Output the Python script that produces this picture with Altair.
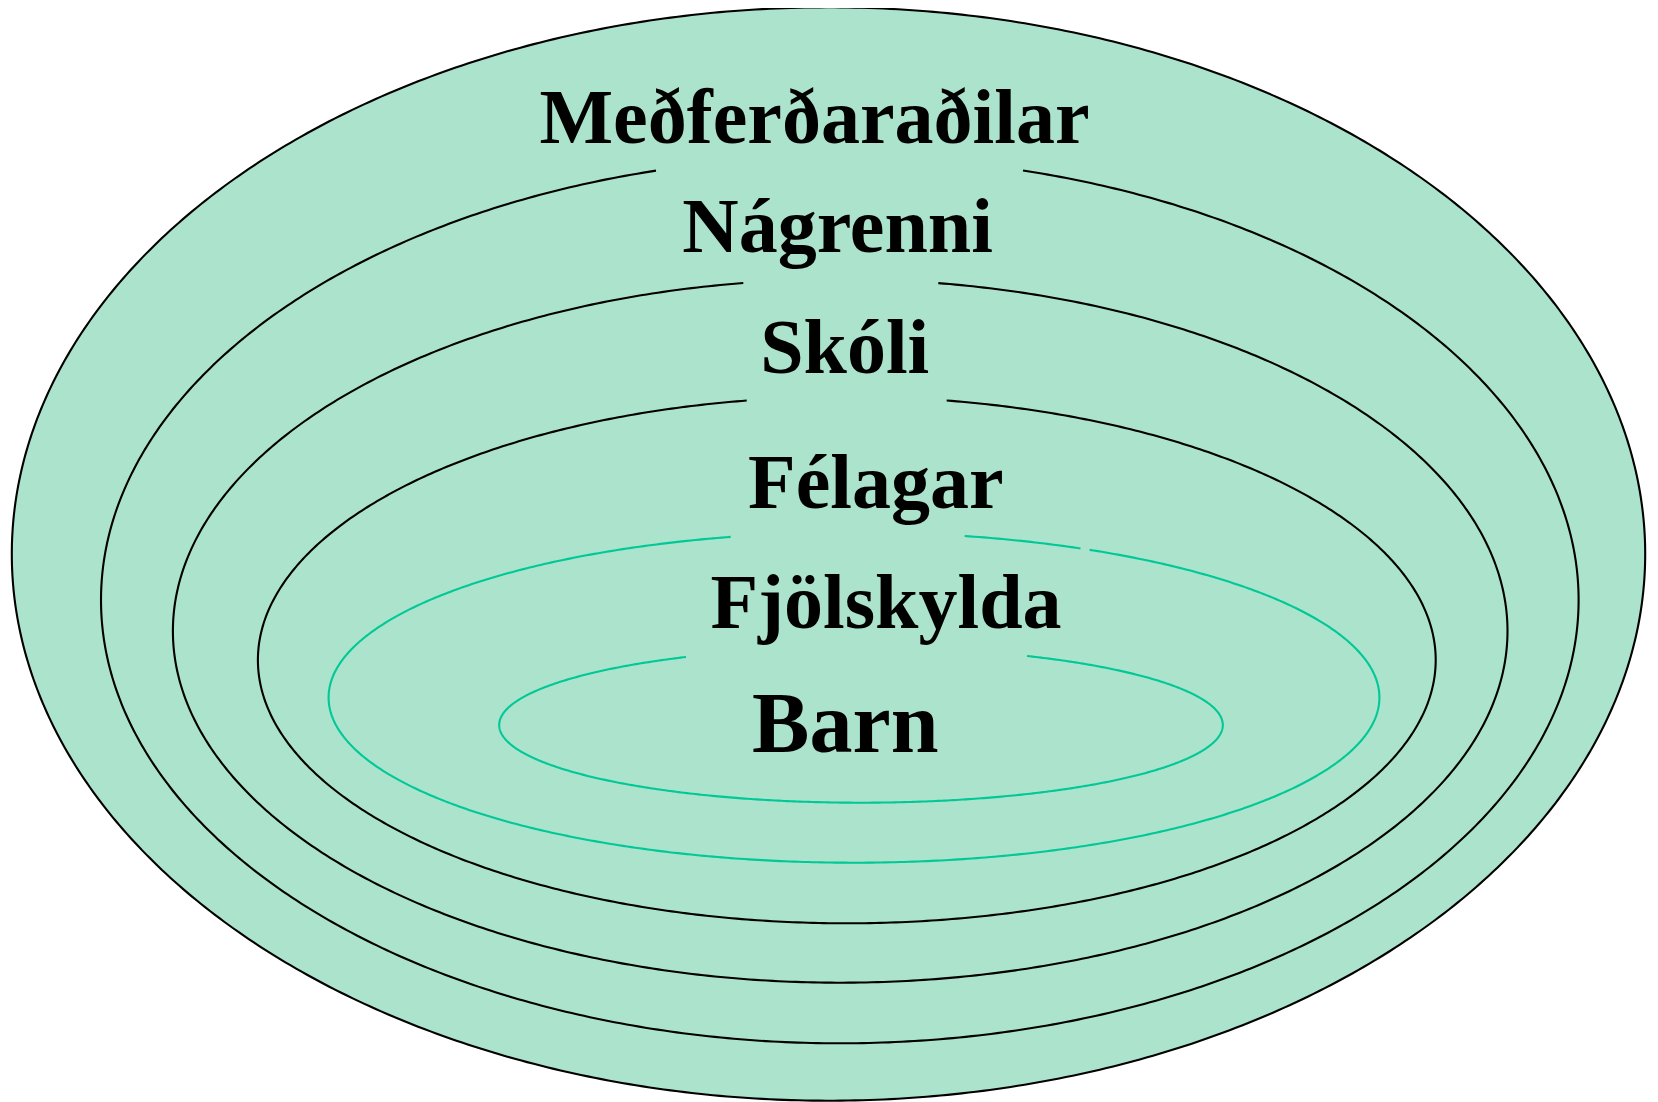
import numpy as np
import pandas as pd
import altair as alt

# ---- rings (nested ellipses), in page pixels ----
ring_names = ["Meðferðaraðilar", "Nágrenni", "Skóli", "Félagar", "Fjölskylda", "Barn"]
ring_cx = [828.5, 839.8, 840.2, 846.8, 854.0, 861.0]
ring_cy = [554.0, 600.0, 631.0, 660.0, 697.5, 725.0]
ring_rx = [816.7, 738.8, 667.3, 588.9, 525.4, 361.8]
ring_ry = [546.7, 443.3, 351.7, 263.3, 165.2, 77.7]
ring_kind = ["black", "black", "black", "black", "teal", "teal"]
# openings in the top edge of each ring (x from, x to)
ring_gaps = [
    [],
    [(656.0, 1023.0)],
    [(743.3, 938.3)],
    [(746.7, 946.7)],
    [(730.7, 964.6), (1080.5, 1089.6)],
    [(686.0, 1027.0)],
]

# ---- labels ----
label_text = ["Meðferðaraðilar", "Nágrenni", "Skóli", "Félagar", "Fjölskylda", "Barn"]
label_x = [814.5, 837.6, 844.7, 875.8, 886.0, 845.3]
label_y = [143.3, 251.7, 372.7, 508.3, 628.3, 752.3]
label_size = [78, 78, 78, 78, 78, 86]

FILL = "#ABE3CC"
TEAL = "#00C896"

# outline paths
rows = []
seg_id = 0
for i in range(len(ring_names)):
    cx, cy, rx, ry = ring_cx[i], ring_cy[i], ring_rx[i], ring_ry[i]
    gaps = []
    for xa, xb in ring_gaps[i]:
        ta = np.arccos(np.clip((xa - cx) / rx, -1, 1))
        tb = np.arccos(np.clip((xb - cx) / rx, -1, 1))
        gaps.append((tb, ta))
    gaps.sort()
    if not gaps:
        arcs = [(0.0, 2 * np.pi)]
    else:
        arcs = []
        for k in range(len(gaps) - 1):
            arcs.append((gaps[k][1], gaps[k + 1][0]))
        arcs.append((gaps[-1][1], gaps[0][0] + 2 * np.pi))
    for a0, a1 in arcs:
        n = max(20, int((a1 - a0) / (2 * np.pi) * 720))
        ts = np.linspace(a0, a1, n)
        for j, t in enumerate(ts):
            rows.append({"x": cx + rx * np.cos(t), "y": cy - ry * np.sin(t),
                         "seg": seg_id, "o": j, "kind": ring_kind[i]})
        seg_id += 1
lines_df = pd.DataFrame(rows)

# fill of the outer ring
ts = np.linspace(np.pi, 0, 721)
fill_df = pd.DataFrame({
    "x": ring_cx[0] + ring_rx[0] * np.cos(ts),
    "y": ring_cy[0] - ring_ry[0] * np.sin(ts),
    "y2": ring_cy[0] + ring_ry[0] * np.sin(ts),
})

labels_df = pd.DataFrame({"label": label_text, "x": label_x, "y": label_y, "size": label_size})

xs = alt.Scale(domain=[8, 1650], nice=False, zero=False)
ys = alt.Scale(domain=[8, 1102], nice=False, zero=False, reverse=True)

fill = alt.Chart(fill_df).mark_area(color=FILL, opacity=1).encode(
    x=alt.X("x:Q", scale=xs, axis=None),
    y=alt.Y("y:Q", scale=ys, axis=None),
    y2="y2:Q",
)

outlines = alt.Chart(lines_df).mark_line(strokeWidth=2.1, strokeCap="butt").encode(
    x=alt.X("x:Q", scale=xs, axis=None),
    y=alt.Y("y:Q", scale=ys, axis=None),
    detail="seg:N",
    order="o:Q",
    color=alt.Color("kind:N", scale=alt.Scale(domain=["black", "teal"], range=["#000000", TEAL]), legend=None),
)

texts = alt.Chart(labels_df).mark_text(
    font="Liberation Serif", fontWeight="bold", align="center", baseline="alphabetic", color="#000000"
).encode(
    x=alt.X("x:Q", scale=xs, axis=None),
    y=alt.Y("y:Q", scale=ys, axis=None),
    text="label:N",
    size=alt.Size("size:Q", scale=None),
)

chart = alt.layer(fill, outlines, texts).properties(
    width=1642, height=1094, padding=0,
    autosize=alt.AutoSizeParams(type="none"),
    background="#FFFFFF",
).configure_view(strokeWidth=0)

chart.save("out.html", embed_options={"renderer": "svg", "actions": False})
